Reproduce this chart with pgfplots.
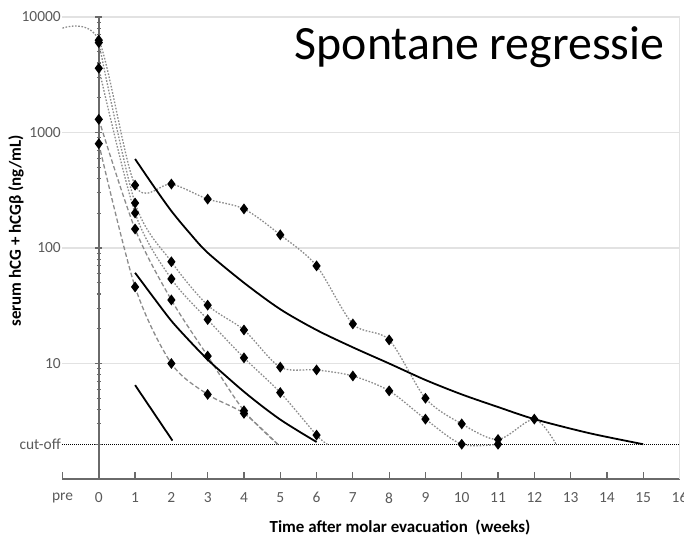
\documentclass[border=0pt]{standalone}
\usepackage{pgfplots}
\pgfplotsset{compat=1.18}
\usepackage{fontspec}
\setmainfont{Carlito}
\definecolor{ticklab}{HTML}{5A5A5A}
\definecolor{gridc}{HTML}{E2E2E2}
\definecolor{axc}{HTML}{6A6A6A}
\definecolor{ser}{HTML}{8C8C8C}
\begin{document}
\begin{tikzpicture}
\begin{axis}[
  width=617bp, height=462bp, scale only axis,
  xmin=-1, xmax=16, ymode=log, ymin=1, ymax=10000,
  clip=false,
  axis x line=bottom, axis y line=middle,
  axis line style={-},
  x axis line style={axc, line width=1.6bp},
  y axis line style={axc, line width=2.2bp},
  xtick={-1,0,1,2,3,4,5,6,7,8,9,10,11,12,13,14,15,16},
  xticklabels={pre,0,1,2,3,4,5,6,7,8,9,10,11,12,13,14,15,16},
  xtick style={axc, line width=1.2bp},
  xtick align=inside,
  ytick={10,100,1000,10000},
  yticklabels={10,100,1000,10000},
  minor ytick={2,3,4,5,6,7,8,9,20,30,40,50,60,70,80,90,200,300,400,500,600,700,800,900,2000,3000,4000,5000,6000,7000,8000,9000},
  ytick style={axc, line width=1.2bp},
  ytick align=center,
  major tick length=7bp, minor tick length=4bp,
  ymajorgrids, major grid style={gridc, line width=1.3bp},
  extra y ticks={2}, extra y tick labels={cut-off},
  extra y tick style={ymajorgrids=true, major grid style={black, line width=1bp, dash pattern=on 1bp off 1bp}},
  tick label style={ticklab, font=\fontsize{15.5}{17}\selectfont},
  yticklabel style={anchor=east, xshift=-31bp},
  xticklabel style={anchor=north, yshift=-10bp},
  dotser/.style={ser, line width=1.3bp, dash pattern=on 1.6bp off 1.6bp, smooth, mark=diamond*, mark size=4.4bp, mark options={black, solid}},
  dashser/.style={ser, line width=1.3bp, dash pattern=on 4.5bp off 2.5bp, smooth, mark=diamond*, mark size=4.4bp, mark options={black, solid}},
  solidcur/.style={black, line width=1.8bp, smooth, no marks},
]
\coordinate (ll) at (rel axis cs:0,0);
\draw[gridc, line width=1.3bp] (axis cs:16,1) -- (axis cs:16,10000);

% patient series
\addplot[dotser, mark indices={2,3,4,5,6,7,8,9,10,11,12,13,14}] coordinates {
 (-1,8000) (0,6300) (1,350) (2,358) (3,265) (4,218) (5,130) (6,70) (7,22) (8,16) (9,5.0) (10,3.0) (11,2.2) (12,3.3) (12.6,2)};
\addplot[dotser] coordinates {
 (0,6000) (1,245) (2,76) (3,32) (4,19.5) (5,9.3) (6,8.8) (7,7.8) (8,5.8) (9,3.3) (10,2.0) (11,2.0)};
\addplot[dotser, mark indices={1,2,3,4,5,6,7}] coordinates {
 (0,3600) (1,201) (2,54) (3,24) (4,11.2) (5,5.6) (6,2.4) (6.3,2)};
\addplot[dashser, mark indices={1,2,3,4,5}] coordinates {
 (0,1300) (1,146) (2,35.5) (3,11.6) (4,3.9) (4.93,2)};
\addplot[dashser, mark indices={1,2,3,4,5}] coordinates {
 (0,800) (1,46) (2,10) (3,5.4) (4,3.7) (4.93,2)};

% reference curves
\addplot[solidcur] coordinates {
 (1,590) (1.5,347) (2,209) (2.5,135) (3,91) (4,50) (5,29.5) (6,19.5) (7,13.8) (8,10) (9,7.2) (10,5.4) (11,4.2) (12,3.3) (13.5,2.5) (15,2)};
\addplot[solidcur] coordinates {
 (1,61) (1.5,37.6) (2,23.4) (2.5,15.7) (3,10.8) (3.5,7.8) (4,5.7) (4.5,4.27) (5,3.27) (5.5,2.6) (6,2.09)};
\addplot[solidcur, sharp plot] coordinates {(1,6.5) (2.03,2.15)};

\node[anchor=base east, font=\fontsize{48}{52}\selectfont] at (rel axis cs:0.973,0.907) [xshift=5bp] {Spontane regressie};
\node[anchor=center, font=\bfseries\fontsize{17}{19}\selectfont] at (rel axis cs:0.547,0) [yshift=-48bp] {Time after molar evacuation\ \ (weeks)};
\node[anchor=center, rotate=90, font=\bfseries\fontsize{17}{19}\selectfont] at (rel axis cs:-0.0754,0.537) {serum hCG + hCGβ (ng/mL)};
\end{axis}
\pgfresetboundingbox
\path (ll) ++(-62.5bp,-57bp) rectangle ++(684bp,536bp);
\end{tikzpicture}
\end{document}
